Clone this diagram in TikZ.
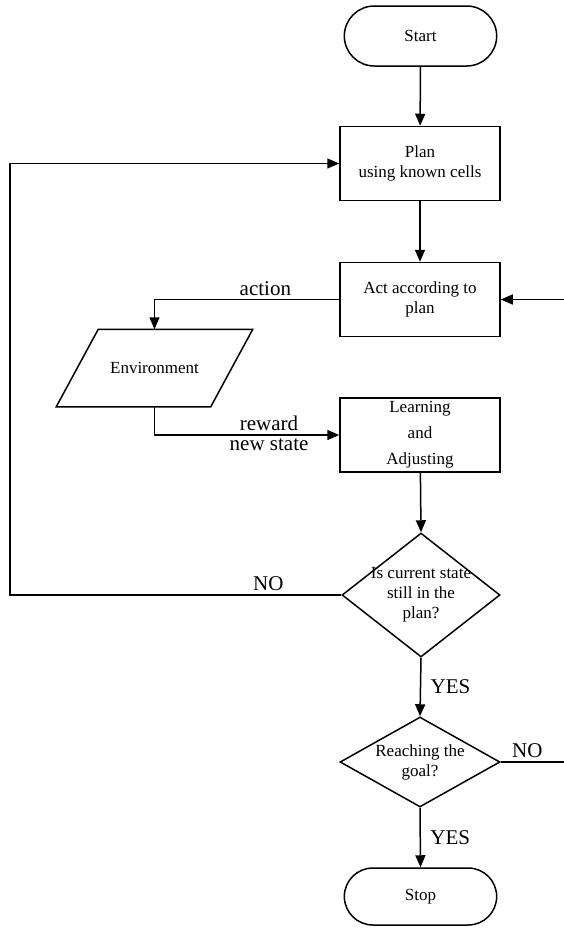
\documentclass[tikz,border=0pt]{standalone}
\usepackage{fontspec}
\setmainfont{Liberation Serif}
\usetikzlibrary{shapes.geometric,shapes.misc,arrows.meta}

\begin{document}
\begin{tikzpicture}[x=1pt, y=-1pt, line width=1.5pt, every node/.style={font=\fontsize{17}{20}\selectfont}]
  \tikzset{
    terminal/.style={draw, rounded rectangle, minimum width=159pt, minimum height=60pt},
    process/.style={draw, rectangle, minimum width=160pt, minimum height=74pt, align=center},
    decision/.style={draw, diamond, inner sep=0pt},
    io/.style={minimum width=195pt, minimum height=76pt},
    flow/.style={-{Triangle[length=12pt,width=10pt]}},
    tag/.style={font=\fontsize{21}{24}\selectfont}
  }
  \useasboundingbox (0,0) rectangle (564,929);

  % main column
  \node[terminal] (start) at (420.5,36) {Start};
  \node[process] (plan) at (420,163.5) {Plan\\using known cells};
  \node[process] (act) at (420,299.5) {Act according to\\plan};
  \node[io] (env) at (154.5,368) {Environment};
  \draw (env.south west) -- ([xshift=-42pt]env.south east) -- (env.north east)
        -- ([xshift=42pt]env.north west) -- cycle;
  \node[process] (learn) at (420,435) {Learning\\[6pt]and\\[6pt]Adjusting};
  \node[decision, minimum width=158pt, minimum height=124pt,
        label={[align=center]center:{Is current state\\still in the\\plan?}}] (check) at (421,595) {};
  \node[decision, minimum width=160pt, minimum height=90pt,
        label={[align=center]center:{Reaching the\\goal?}}] (goal) at (420,762) {};
  \node[terminal, minimum height=57pt] (stop) at (420.5,896.5) {Stop};

  % loose ends at the edges
  \coordinate (lft) at (10,595);
  \coordinate (rhi) at (564,299.5);
  \coordinate (rlo) at (564,762);

  % connectors
  \draw[flow] (start) -- (plan);
  \draw[flow] (plan) -- (act);
  \draw[flow] (act.west) -| node[tag, above, pos=0.2] {action} (env.north);
  \draw[flow] (env.south) |- node[tag, above, pos=0.81] {reward} node[tag, below, pos=0.81] {new state} (learn.west);
  \draw[flow] (learn) -- (check.north);
  \draw[flow] (check.west) -- node[tag, above, pos=0.22] {NO} (lft) |- (plan.west);
  \draw[flow] (check.south) -- node[tag, right=6pt] {YES} (goal.north);
  \draw (goal.east) -- node[tag, above, pos=0.42] {NO} (rlo);
  \draw[flow] (rhi) -- (act.east);
  \draw[flow] (goal.south) -- node[tag, right=6pt] {YES} (stop.north);
\end{tikzpicture}
\end{document}
